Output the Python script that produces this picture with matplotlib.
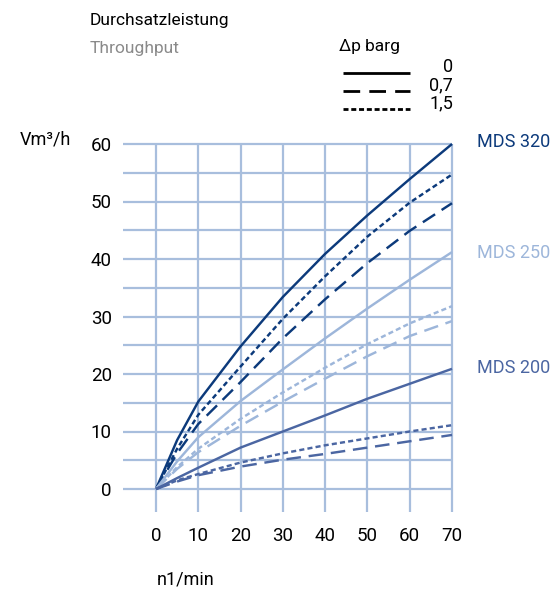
import matplotlib
matplotlib.use("Agg")
import matplotlib.pyplot as plt
from matplotlib.lines import Line2D

plt.rcParams['font.family'] = ['Roboto', 'DejaVu Sans']

# ---- data ----
speed = [0, 5, 10, 20, 30, 40, 50, 60, 70]          # n1/min
mds320_p0  = [0, 8.5, 15.2, 24.8, 33.4, 40.9, 47.6, 53.9, 60.0]
mds320_p07 = [0, 6.2, 11.3, 18.6, 26.2, 33.0, 39.3, 44.9, 49.7]
mds320_p15 = [0, 7.0, 12.9, 21.3, 29.6, 37.0, 43.9, 49.8, 54.7]
mds250_p0  = [0, 4.8, 9.0, 15.3, 20.8, 26.2, 31.4, 36.4, 41.2]
mds250_p07 = [0, 3.5, 6.4, 11.0, 15.2, 19.2, 23.1, 26.6, 29.2]
mds250_p15 = [0, 3.8, 7.0, 12.2, 16.8, 21.1, 25.2, 28.8, 31.8]
mds200_p0  = [0, 1.9, 3.7, 7.2, 10.0, 12.8, 15.7, 18.3, 20.9]
mds200_p07 = [0, 1.3, 2.4, 3.9, 5.1, 6.1, 7.2, 8.3, 9.4]
mds200_p15 = [0, 1.5, 2.6, 4.6, 6.2, 7.6, 8.8, 10.0, 11.1]

x_ticks = [0, 10, 20, 30, 40, 50, 60, 70]
y_grid = [0, 5, 10, 15, 20, 25, 30, 35, 40, 45, 50, 55, 60]
y_labels = [0, 10, 20, 30, 40, 50, 60]
pressure_labels = ['0', '0,7', '1,5']
model_labels = ['MDS 320', 'MDS 250', 'MDS 200']

C320 = '#0c3a7b'
C250 = '#9db6da'
C200 = '#4b66a2'
GRID = '#a8bedd'

W, H = 553, 592
fig = plt.figure(figsize=(W / 100, H / 100), dpi=100)

def fx(px):
    return px / W

def fy(py):
    return 1 - py / H

ax = fig.add_axes([fx(123), fy(512), fx(452) - fx(123), fy(144) - fy(512)])
ax.set_xlim(-7.8, 70)
ax.set_ylim(-4, 60)
for s in ax.spines.values():
    s.set_visible(False)

ax.vlines(x_ticks, -4, 60, colors=GRID, linewidth=1.6, clip_on=False, zorder=1)
ax.hlines(y_grid, -7.8, 70, colors=GRID, linewidth=1.6, clip_on=False, zorder=1)

ax.set_xticks(x_ticks)
ax.set_yticks(y_labels)
ax.tick_params(length=0, labelsize=13.5, colors='black')
ax.tick_params(axis='y', pad=8)
ax.tick_params(axis='x', pad=11)

dash_long = (6.0, 3.2)
dash_dot = (2.1, 1.3)
lw = 1.75

series = [
    (mds320_p0, C320, None), (mds320_p07, C320, dash_long), (mds320_p15, C320, dash_dot),
    (mds250_p0, C250, None), (mds250_p07, C250, dash_long), (mds250_p15, C250, dash_dot),
    (mds200_p0, C200, None), (mds200_p07, C200, dash_long), (mds200_p15, C200, dash_dot),
]
for vals, col, dashes in series:
    ln, = ax.plot(speed, vals, color=col, linewidth=lw, clip_on=False, zorder=3,
                  solid_capstyle='butt', dash_capstyle='butt', solid_joinstyle='round')
    if dashes is not None:
        ln.set_dashes(dashes)

# texts
fig.text(fx(90), fy(21), 'Durchsatzleistung', fontsize=12.5, color='black', va='center', ha='left')
fig.text(fx(90), fy(48), 'Throughput', fontsize=12.5, color='#8a8a8a', va='center', ha='left')
fig.text(fx(339), fy(47), 'Δp barg', fontsize=12.5, color='black', va='center', ha='left')

leg_y = [73, 91, 109]
leg_dash = [None, (6.0, 3.3), (1.8, 1.0)]
for yy, lab, d in zip(leg_y, pressure_labels, leg_dash):
    l = Line2D([fx(343), fx(410)], [fy(yy), fy(yy)], color='black', linewidth=2.0,
               transform=fig.transFigure, solid_capstyle='butt', dash_capstyle='butt')
    if d is not None:
        l.set_dashes(d)
    fig.add_artist(l)
    fig.text(fx(453), fy(yy - 6), lab, fontsize=13, color='black', va='center', ha='right')

fig.text(fx(20), fy(140), 'Vm³/h', fontsize=13, color='black', va='center', ha='left')
fig.text(fx(157), fy(579), 'n1/min', fontsize=13, color='black', va='center', ha='left')

for lab, col, yy in zip(model_labels, [C320, C250, C200], [142, 253, 368]):
    fig.text(fx(477), fy(yy), lab, fontsize=13, color=col, va='center', ha='left')

fig.savefig('out.png', dpi=100)
